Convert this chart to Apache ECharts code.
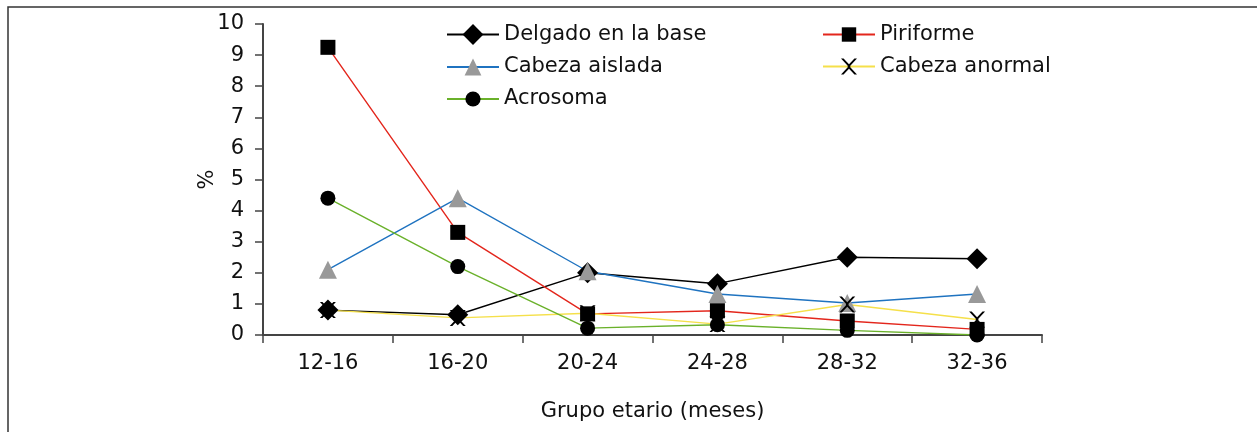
<!DOCTYPE html>
<html>
<head>
<meta charset="utf-8">
<script src="https://cdn.jsdelivr.net/npm/echarts@6/dist/echarts.min.js"></script>
<style>
html,body{margin:0;padding:0;background:#fff;}
#c{width:1257px;height:432px;}
</style>
</head>
<body>
<div id="c"></div>
<script>
const categories = ['12-16','16-20','20-24','24-28','28-32','32-36'];
const delgado = [0.8, 0.65, 2.0, 1.65, 2.5, 2.45];
const piriforme = [9.25, 3.3, 0.68, 0.78, 0.45, 0.18];
const cabezaAislada = [2.1, 4.4, 2.05, 1.32, 1.03, 1.32];
const cabezaAnormal = [0.8, 0.55, 0.7, 0.35, 0.98, 0.5];
const acrosoma = [4.4, 2.2, 0.22, 0.33, 0.15, 0.0];
const yTicks = [0,1,2,3,4,5,6,7,8,9,10];

const FONT = 'DejaVu Sans';
const FS = 21;
const xPath = 'path://M0,0 L1.6,0 L5,3.6 L8.4,0 L10,0 L5.8,4.5 L5.8,5.5 L10,10 L8.4,10 L5,6.4 L1.6,10 L0,10 L4.2,5.5 L4.2,4.5 Z';

function mk(name, data, lineColor, symbol, size, symColor) {
  return {
    name: name, type: 'line', data: data,
    symbol: symbol, symbolSize: size,
    lineStyle: {color: lineColor, width: 1.4},
    itemStyle: {color: symColor, borderColor: symColor, borderWidth: 0},
    color: lineColor,
    emphasis: {disabled: true},
    animation: false
  };
}

const legendText = {fontFamily: FONT, fontSize: FS, color: '#111'};
function lg(name, left, cy, h) {
  return {
    data: [name], orient: 'horizontal', left: left, top: cy - h / 2, padding: 0,
    itemWidth: 52, itemHeight: h, textStyle: legendText, selectedMode: false
  };
}
const chart = echarts.init(document.getElementById('c'), null, {renderer: 'canvas'});
chart.setOption({
  backgroundColor: '#fff',
  animation: false,
  textStyle: {fontFamily: FONT},
  graphic: [{
    type: 'rect', shape: {x: 8, y: 7, width: 1400, height: 600},
    style: {fill: 'none', stroke: '#333', lineWidth: 1.5}, silent: true
  }],
  grid: {left: 263, top: 24, right: 215, bottom: 97},
  legend: [
    lg('Delgado en la base', 446, 37, 26),
    lg('Cabeza aislada', 446, 67, 21),
    lg('Acrosoma', 446, 98, 19),
    lg('Piriforme', 822, 33, 18),
    lg('Cabeza anormal', 822, 66, 20)
  ],
  xAxis: {
    type: 'category', data: categories, boundaryGap: true,
    name: 'Grupo etario (meses)', nameLocation: 'middle', nameGap: 66,
    nameTextStyle: {fontFamily: FONT, fontSize: FS, color: '#111'},
    axisLine: {lineStyle: {color: '#444', width: 2}},
    axisTick: {show: true, length: 8, lineStyle: {color: '#444', width: 1.5}},
    axisLabel: {fontFamily: FONT, fontSize: FS, color: '#111', margin: 18}
  },
  yAxis: {
    type: 'value', min: 0, max: 10, interval: 1,
    name: '%', nameLocation: 'middle', nameGap: 45, nameRotate: 90,
    nameMoveOverlap: false,
    nameTextStyle: {fontFamily: FONT, fontSize: FS, color: '#111'},
    axisLine: {show: true, lineStyle: {color: '#444', width: 2}},
    axisTick: {show: true, length: 8, lineStyle: {color: '#444', width: 1.5}},
    splitLine: {show: false},
    axisLabel: {fontFamily: FONT, fontSize: FS, color: '#111', margin: 19,
      formatter: function(v){ return yTicks.indexOf(v) >= 0 ? String(v) : ''; }}
  },
  series: [
    mk('Delgado en la base', delgado, '#000000', 'diamond', 21, '#000000'),
    mk('Piriforme', piriforme, '#e3261c', 'rect', 15, '#000000'),
    mk('Cabeza aislada', cabezaAislada, '#1f73c0', 'triangle', 18, '#999999'),
    mk('Cabeza anormal', cabezaAnormal, '#f5e04a', xPath, 16, '#000000'),
    mk('Acrosoma', acrosoma, '#6ab12a', 'circle', 15, '#000000')
  ]
});
</script>
</body>
</html>
